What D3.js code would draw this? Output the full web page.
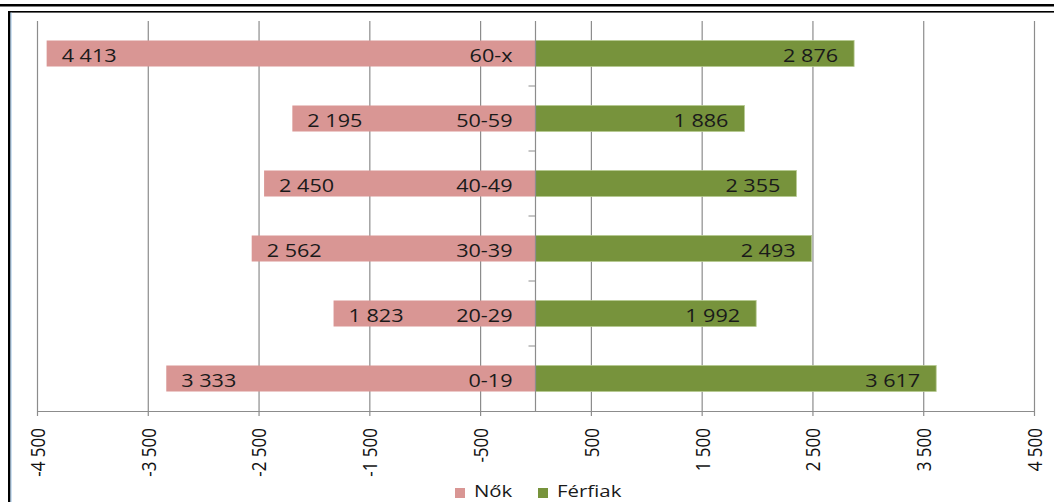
<!DOCTYPE html>
<html><head><meta charset="utf-8">
<script src="https://cdn.jsdelivr.net/npm/d3@7"></script>
<style>
html,body{margin:0;padding:0;background:#fff;}
svg{display:block;}
text{font-family:"Open Sans","Noto Sans",sans-serif;}
</style></head>
<body>
<svg id="c" width="1054" height="502"></svg>
<script>
const categories = ["60-x","50-59","40-49","30-39","20-29","0-19"];
const women = [4413,2195,2450,2562,1823,3333];
const men = [2876,1886,2355,2493,1992,3617];
const tickValues = [-4500,-3500,-2500,-1500,-500,500,1500,2500,3500,4500];
const seriesNames = ["Nők","Férfiak"];
const colors = ["#D99694","#77933C"];

const SX = 1.2; // horizontal stretch of the reference text
const svg = d3.select("#c");
const fmt = v => { const s = String(Math.abs(v)); const t = s.length>3 ? s.slice(0,s.length-3)+"\u00A0"+s.slice(-3) : s; return (v<0?"-":"")+t; };

// frame
svg.append("rect").attr("x",0).attr("y",4).attr("width",1054).attr("height",2.5).attr("fill","#000");
svg.append("rect").attr("x",8).attr("y",11).attr("width",1046).attr("height",1.6).attr("fill","#000");
svg.append("rect").attr("x",8).attr("y",11).attr("width",2.5).attr("height",491).attr("fill","#000");
svg.append("rect").attr("x",10.5).attr("y",12.5).attr("width",1).attr("height",490).attr("fill","#9dc3e6");

const x = d3.scaleLinear().domain([-4500,4500]).range([37,1034]);
const y = d3.scaleBand().domain(categories).range([21,411]).paddingInner(0.6).paddingOuter(0.3);
const yb = d3.scaleBand().domain(categories).range([21,411]);

// gridlines + x axis
const xAxis = d3.axisBottom(x).tickValues(tickValues).tickSize(0).tickFormat(fmt);
const gx = svg.append("g").attr("transform","translate(0,411)").call(xAxis);
gx.select(".domain").attr("stroke","#8c8c8c");
gx.selectAll(".tick line").remove();
gx.selectAll(".tick").append("line").attr("y1",-390).attr("y2",5).attr("stroke","#8c8c8c").attr("stroke-width",1.2);
gx.selectAll(".tick text")
  .attr("x",0).attr("y",0)
  .attr("transform","translate(0,17) rotate(-90) scale(1,"+SX+")")
  .attr("dy","0.36em")
  .attr("text-anchor","end")
  .attr("font-size",17).attr("fill","#111");

// bars
const g = svg.append("g");
g.selectAll("rect.w").data(categories).join("rect")
  .attr("x",(d,i)=>x(-women[i])).attr("y",d=>y(d))
  .attr("width",(d,i)=>x(0)-x(-women[i])).attr("height",y.bandwidth())
  .attr("fill",colors[0]);
g.selectAll("rect.m").data(categories).join("rect").attr("class","m")
  .attr("x",x(0)).attr("y",d=>y(d))
  .attr("width",(d,i)=>x(men[i])-x(0)).attr("height",y.bandwidth())
  .attr("fill",colors[1]).attr("stroke","#b5c98f").attr("stroke-width",0.8);

// y axis line with ticks between categories
const ga = svg.append("g");
ga.append("line").attr("x1",x(0)).attr("x2",x(0)).attr("y1",21).attr("y2",411).attr("stroke","#8c8c8c").attr("stroke-width",1.2);
ga.selectAll("line.t").data(categories.slice(1)).join("line").attr("class","t")
  .attr("x1",x(0)-7).attr("x2",x(0)).attr("y1",d=>yb(d)).attr("y2",d=>yb(d))
  .attr("stroke","#8c8c8c");

// labels
const st = (px,py) => `translate(${px},${py}) scale(${SX},1)`;
const cy = d => y(d)+y.bandwidth()/2;
const lab = svg.append("g").attr("font-size",18).attr("fill","#1a1a1a");
lab.selectAll("text.wv").data(categories).join("text")
  .attr("transform",(d,i)=>st(x(-women[i])+15, cy(d))).attr("dy","0.45em")
  .text((d,i)=>fmt(women[i]));
lab.selectAll("text.cat").data(categories).join("text").attr("class","cat")
  .attr("transform",d=>st(x(0)-23, cy(d))).attr("dy","0.45em")
  .attr("text-anchor","end").text(d=>d);
lab.selectAll("text.mv").data(categories).join("text").attr("class","mv")
  .attr("transform",(d,i)=>st(x(men[i])-16, cy(d))).attr("dy","0.45em")
  .attr("text-anchor","end").text((d,i)=>fmt(men[i]));

// legend
const leg = svg.append("g");
const lx = [455,538];
seriesNames.forEach((n,i)=>{
  leg.append("rect").attr("x",lx[i]).attr("y",488).attr("width",10).attr("height",10).attr("fill",colors[i]);
  leg.append("text").attr("transform",st(lx[i]+19,497)).attr("font-size",17).attr("fill","#1a1a1a").text(n);
});
</script>
</body></html>
